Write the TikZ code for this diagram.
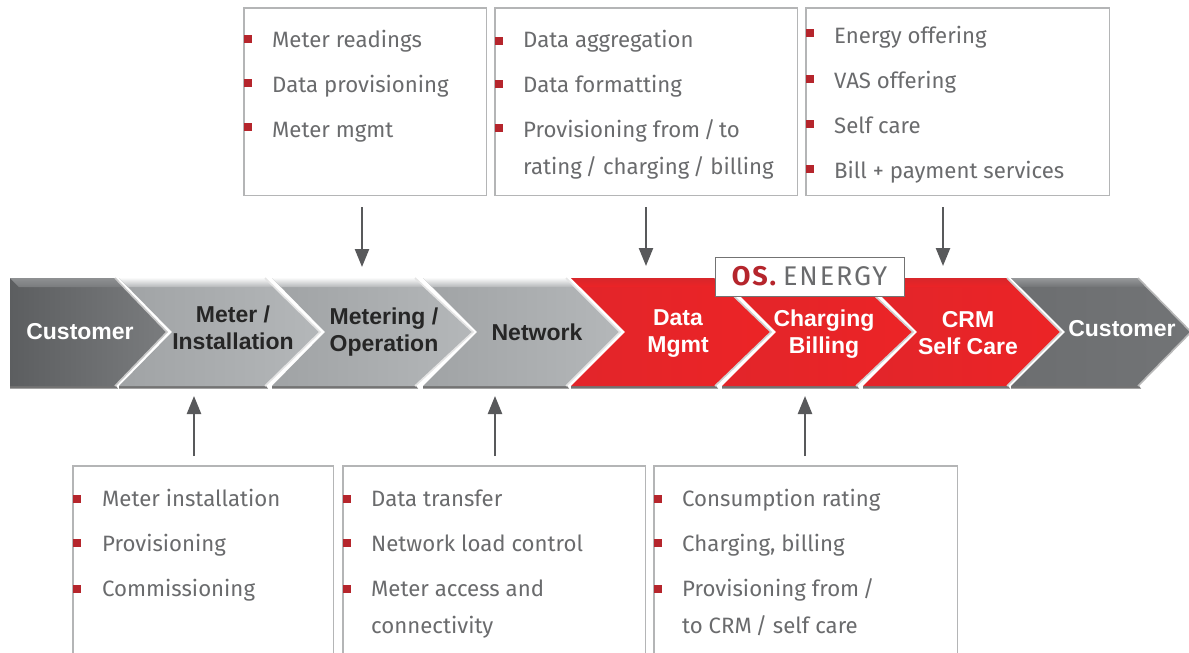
\documentclass[tikz,border=0pt]{standalone}
\usepackage{fontspec}
\usetikzlibrary{arrows.meta}
\setmainfont{Fira Sans}
\newfontfamily\chevfont{Liberation Sans}[BoldFont={* Bold}]
\definecolor{txtgrey}{HTML}{6A6B6D}
\definecolor{boxgrey}{HTML}{B4B5B6}
\definecolor{arrgrey}{HTML}{58595B}
\definecolor{bulred}{HTML}{B5252C}
\tikzset{
  x=1pt,y=-1pt,
  boxframe/.style={draw=boxgrey,line width=1.1pt},
  boxarea/.style={inner sep=0pt,minimum width=#1,anchor=north west},
  item/.style={anchor=base west,inner sep=0pt,text=txtgrey,font=\fontsize{22.2}{26}\selectfont},
  bullet/.style={fill=bulred},
  arr/.style={draw=arrgrey,line width=2.4pt,-{Triangle[width=14pt,length=18pt]}},
  chevlabel/.style={align=center,inner sep=0pt,font=\chevfont\bfseries\fontsize{23}{27}\selectfont},
}
\newcommand{\chevshape}[4]{(#1,278) -- (#3,278) -- (#4,332) -- (#3,386) -- (#1,386) -- (#2,332) -- cycle}
% x0, notch, shoulder, tip, left colour, right colour, highlight colour, edge colour
\newcommand{\chevron}[8]{
  \definecolor{cL}{HTML}{#5}\definecolor{cR}{HTML}{#6}\definecolor{cH}{HTML}{#7}\definecolor{cE}{HTML}{#8}
  \fill[black!55] (#1,386) -- (#3+1,386) -- (#3+3,388.5) -- (#1,388.5) -- cycle;
  \shade[left color=cL,middle color=cR,right color=cR] \chevshape{#1}{#2}{#3}{#4};
  \shade[top color=cH,bottom color=cR] (#1,278) -- (#3,278) -- (#3+8,287) -- (#1+9,287) -- cycle;
  \draw[cE,line width=1.6pt,line join=miter] (#3,278) -- (#4,332) -- (#3,386);
}
\newcommand{\bul}[2]{\fill[bullet] (#1,#2-3.7) rectangle (#1+8,#2+3.7);}
\begin{document}
\begin{tikzpicture}
\useasboundingbox (0,0) rectangle (1189,653);
\fill[white] (0,0) rectangle (1189,653);

% chevrons
\chevron{10}{10}{115}{167}{5C5E60}{7A7C7E}{8E9092}{C8C8C8}
\chevron{119}{172}{265}{320}{A0A3A5}{B4B7B9}{FAFAFA}{E4E4E4}
\chevron{272}{325}{415}{473}{A0A3A5}{B4B7B9}{FAFAFA}{E4E4E4}
\chevron{423}{477}{566}{620}{A0A3A5}{B4B7B9}{FAFAFA}{E4E4E4}
\chevron{571}{625}{715}{771}{E2252A}{EC2426}{D8262B}{D0D0D0}
\chevron{722}{776}{856}{913}{E2252A}{EC2426}{D8262B}{D0D0D0}
\chevron{863}{917}{1007}{1061}{E2252A}{EC2426}{D8262B}{D0D0D0}
\chevron{1011}{1065}{1138}{1191}{6C6E70}{727476}{96989A}{B8B8B8}

% chevron labels
\node[chevlabel,text=white] (c1) at (80,332) {Customer};
\node[chevlabel,text=black!85] (c2) at (233,328) {Meter /\\Installation};
\node[chevlabel,text=black!85] (c3) at (384,332.5) {Metering /\\Operation};
\node[chevlabel,text=black!85] (c4) at (537,332) {Network};
\node[chevlabel,text=white] (c5) at (678,334) {Data\\Mgmt};
\node[chevlabel,text=white] (c6) at (824,334.5) {Charging\\Billing};
\node[chevlabel,text=white] (c7) at (968,333.5) {CRM\\Self Care};
\node[chevlabel,text=white] (c8) at (1122,329) {Customer};

% logo
\node[draw=black!55,fill=white,line width=0.8pt,minimum width=189pt,minimum height=39pt,inner sep=0pt,
      font=\fontsize{27}{30}\selectfont] (logo) at (809.5,276.5)
  {\addfontfeatures{LetterSpace=7}{\color{bulred}\bfseries OS.}\hspace{7pt}{\color{txtgrey}ENERGY}};

% top boxes
\node[boxarea=242pt,minimum height=187pt] (boxA) at (244,8) {};
\draw[boxframe] (boxA.south west) rectangle (boxA.north east);
\node[boxarea=302pt,minimum height=187pt] (boxB) at (495,8) {};
\draw[boxframe] (boxB.south west) rectangle (boxB.north east);
\node[boxarea=303pt,minimum height=187pt] (boxC) at (806,8) {};
\draw[boxframe] (boxC.south west) rectangle (boxC.north east);

% bottom boxes, cut by the lower edge of the picture
\node[boxarea=260pt,minimum height=187pt] (boxD) at (73,466) {};
\draw[boxframe] (boxD.south west) -- (boxD.north west) -- (boxD.north east) -- (boxD.south east);
\node[boxarea=302pt,minimum height=187pt] (boxE) at (343,466) {};
\draw[boxframe] (boxE.south west) -- (boxE.north west) -- (boxE.north east) -- (boxE.south east);
\node[boxarea=303pt,minimum height=187pt] (boxF) at (654,466) {};
\draw[boxframe] (boxF.south west) -- (boxF.north west) -- (boxF.north east) -- (boxF.south east);

% items
\bul{244}{39}\bul{244}{83}\bul{244}{127}
\node[item] (a1) at (272,47) {Meter readings};
\node[item] (a2) at (272,92) {Data provisioning};
\node[item] (a3) at (272,137) {Meter mgmt};

\bul{495}{41}\bul{495}{84}\bul{495}{128}
\node[item] (b1) at (523,47) {Data aggregation};
\node[item] (b2) at (523,92) {Data formatting};
\node[item] (b3) at (523,137) {Provisioning from\,/\,to};
\node[item] (b4) at (523,174) {rating\,/ charging\,/ billing};

\bul{806}{33}\bul{806}{79}\bul{806}{124}\bul{806}{169}
\node[item] (c1t) at (834,43) {Energy offering};
\node[item] (c2t) at (834,88) {VAS offering};
\node[item] (c3t) at (834,133) {Self care};
\node[item] (c4t) at (834,178) {Bill + payment services};

\bul{73}{499}\bul{73}{543}\bul{73}{589}
\node[item] (d1) at (102,506) {Meter installation};
\node[item] (d2) at (102,551) {Provisioning};
\node[item] (d3) at (102,596) {Commissioning};

\bul{343}{499}\bul{343}{543}\bul{343}{589}
\node[item] (e1) at (371,506) {Data transfer};
\node[item] (e2) at (371,551) {Network load control};
\node[item] (e3) at (371,596) {Meter access and};
\node[item] (e4) at (371,633) {connectivity};

\bul{654}{499}\bul{654}{543}\bul{654}{589}
\node[item] (f1) at (682,506) {Consumption rating};
\node[item] (f2) at (682,551) {Charging, billing};
\node[item] (f3) at (682,596) {Provisioning from\,/};
\node[item] (f4) at (682,633) {to CRM\,/ self care};

% arrows
\coordinate (ta1) at (362,207); \coordinate (ta2) at (362,267);
\coordinate (tb1) at (646,207); \coordinate (tb2) at (646,266);
\coordinate (tc1) at (943,207); \coordinate (tc2) at (943,266);
\coordinate (bd1) at (194,456); \coordinate (bd2) at (194,396);
\coordinate (be1) at (495,456); \coordinate (be2) at (495,396);
\coordinate (bf1) at (805,456); \coordinate (bf2) at (805,396);
\draw[arr] (ta1) -- (ta2);
\draw[arr] (tb1) -- (tb2);
\draw[arr] (tc1) -- (tc2);
\draw[arr] (bd1) -- (bd2);
\draw[arr] (be1) -- (be2);
\draw[arr] (bf1) -- (bf2);
\end{tikzpicture}
\end{document}
